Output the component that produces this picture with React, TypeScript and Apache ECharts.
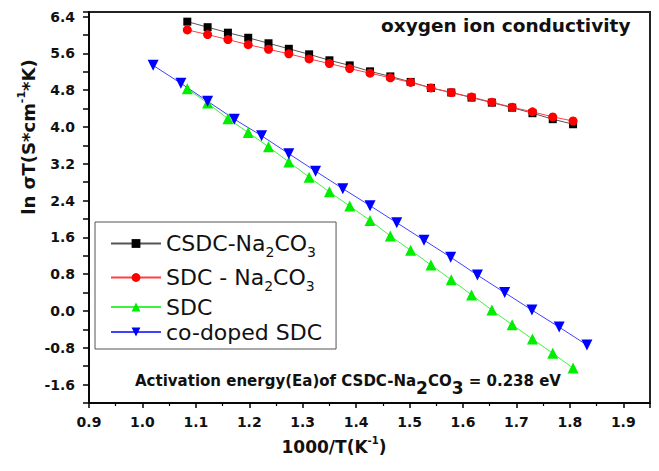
import React, { useEffect, useRef } from "react";
import * as echarts from "echarts";

// Shared x values (1000/T) for CSDC-Na2CO3, SDC-Na2CO3 and SDC
const xMain = [1.084, 1.122, 1.16, 1.198, 1.236, 1.274, 1.312, 1.35, 1.388, 1.426, 1.464, 1.502, 1.54, 1.578, 1.616, 1.654, 1.692, 1.73, 1.768, 1.806];
const yCsdcNa = [6.29, 6.17, 6.05, 5.94, 5.82, 5.7, 5.58, 5.45, 5.34, 5.21, 5.1, 4.98, 4.85, 4.75, 4.64, 4.53, 4.42, 4.3, 4.17, 4.06];
const ySdcNa = [6.11, 6.01, 5.9, 5.79, 5.69, 5.59, 5.48, 5.38, 5.27, 5.17, 5.07, 4.97, 4.85, 4.75, 4.65, 4.54, 4.43, 4.33, 4.22, 4.13];
const ySdc = [4.83, 4.52, 4.18, 3.88, 3.57, 3.24, 2.91, 2.59, 2.28, 1.97, 1.63, 1.32, 1.0, 0.68, 0.35, 0.02, -0.3, -0.61, -0.92, -1.24];
// co-doped SDC
const xCodoped = [1.02, 1.072, 1.122, 1.172, 1.223, 1.274, 1.324, 1.375, 1.426, 1.476, 1.527, 1.577, 1.627, 1.678, 1.729, 1.78, 1.832];
const yCodoped = [5.34, 4.95, 4.56, 4.17, 3.81, 3.42, 3.04, 2.66, 2.29, 1.92, 1.54, 1.17, 0.78, 0.4, 0.02, -0.35, -0.74];

const seriesNames = ["CSDC-Na2CO3", "SDC - Na2CO3", "SDC", "co-doped SDC"];
const legendRich: Record<string, string> = {
  "CSDC-Na2CO3": "CSDC-Na{sub|2}CO{sub|3}",
  "SDC - Na2CO3": "SDC - Na{sub|2}CO{sub|3}",
  SDC: "SDC",
  "co-doped SDC": "co-doped SDC",
};

const FONT = "DejaVu Sans";

const zip = (xs: number[], ys: number[]) => xs.map((x, i) => [x, ys[i]]);

export default function App() {
  const ref = useRef<HTMLDivElement>(null);
  useEffect(() => {
    if (!ref.current) return;
    const chart = echarts.init(ref.current, undefined, { renderer: "svg" });
    const near = (v: number, step: number) => Math.abs(v / step - Math.round(v / step)) < 1e-6;
    chart.setOption({
      animation: false,
      backgroundColor: "#fff",
      grid: { left: 89, right: 9, top: 12, bottom: 68, show: true, borderColor: "#222", borderWidth: 2, backgroundColor: "transparent" },
      xAxis: {
        type: "value",
        min: 0.9,
        max: 1.95,
        interval: 0.1,
        axisLine: { onZero: false, lineStyle: { color: "#000", width: 1.5 } },
        axisTick: { length: 5, lineStyle: { color: "#000", width: 1.5 } },
        minorTick: { show: true, splitNumber: 2, length: 3, lineStyle: { color: "#000", width: 1.2 } },
        splitLine: { show: false },
        axisLabel: {
          fontFamily: FONT,
          fontWeight: "bold",
          fontSize: 14,
          color: "#111",
          margin: 12,
          formatter: (v: number) => (near(v, 0.1) ? v.toFixed(1) : ""),
        },
      },
      yAxis: {
        type: "value",
        min: -2.0,
        max: 6.5,
        interval: 0.4,
        axisLine: { onZero: false, lineStyle: { color: "#000", width: 1.5 } },
        axisTick: { length: 6, lineStyle: { color: "#000", width: 1.5 } },
        splitLine: { show: false },
        axisLabel: {
          fontFamily: FONT,
          fontWeight: "bold",
          fontSize: 14,
          color: "#111",
          margin: 14,
          formatter: (v: number) => (near(v, 0.8) ? v.toFixed(1) : ""),
        },
      },
      legend: {
        orient: "vertical",
        left: 95,
        top: 222,
        padding: [6, 14, 6, 15],
        itemGap: 3,
        itemWidth: 50,
        itemHeight: 11,
        borderColor: "#555",
        borderWidth: 1,
        backgroundColor: "#fff",
        data: seriesNames,
        formatter: (name: string) => legendRich[name] || name,
        textStyle: {
          fontFamily: FONT,
          fontSize: 22,
          color: "#111",
          lineHeight: 21,
          rich: {
            sub: { fontFamily: FONT, fontSize: 14, color: "#111", verticalAlign: "bottom", lineHeight: 31 },
          },
        },
      },
      graphic: [
        {
          type: "text",
          left: 381,
          top: 16,
          style: { text: "oxygen ion conductivity", font: `bold 18.5px "${FONT}"`, fill: "#111" },
        },
        {
          type: "text",
          x: 135,
          y: 381,
          style: {
            text: "Activation energy(Ea)of CSDC-Na{s|2}CO{s|3} = 0.238 eV",
            fontFamily: FONT,
            fontWeight: "bold",
            fontSize: 15,
            fill: "#111",
            textVerticalAlign: "middle",
            lineHeight: 18,
            rich: { s: { fontFamily: FONT, fontWeight: "bold", fontSize: 17, fill: "#111", verticalAlign: "bottom", lineHeight: 30 } },
          },
        },
        {
          type: "text",
          x: 334,
          y: 447,
          style: {
            text: "1000/T(K{p|-1})",
            fontFamily: FONT,
            fontWeight: "bold",
            fontSize: 17,
            fill: "#111",
            align: "center",
            verticalAlign: "middle",
            lineHeight: 19,
            rich: { p: { fontFamily: FONT, fontWeight: "bold", fontSize: 10, fill: "#111", verticalAlign: "top", lineHeight: 23 } },
          },
        },
        {
          type: "text",
          x: 28,
          y: 137,
          rotation: Math.PI / 2,
          style: {
            text: "ln \u03c3T(S*cm{p|-1}*K)",
            fontFamily: FONT,
            fontWeight: "bold",
            fontSize: 18,
            fill: "#111",
            align: "center",
            verticalAlign: "middle",
            lineHeight: 20,
            rich: { p: { fontFamily: FONT, fontWeight: "bold", fontSize: 11, fill: "#111", verticalAlign: "top", lineHeight: 24 } },
          },
        },
      ],
      series: [
        {
          name: seriesNames[0],
          type: "line",
          data: zip(xMain, yCsdcNa),
          symbol: "rect",
          symbolSize: 8,
          itemStyle: { color: "#000" },
          lineStyle: { color: "#555", width: 1 },
        },
        {
          name: seriesNames[1],
          type: "line",
          data: zip(xMain, ySdcNa),
          symbol: "circle",
          symbolSize: 9,
          itemStyle: { color: "#ff0000" },
          lineStyle: { color: "#ff4040", width: 1 },
        },
        {
          name: seriesNames[2],
          type: "line",
          data: zip(xMain, ySdc),
          symbol: "triangle",
          symbolSize: 11,
          itemStyle: { color: "#00ee00" },
          lineStyle: { color: "#40f040", width: 1 },
        },
        {
          name: seriesNames[3],
          type: "line",
          data: zip(xCodoped, yCodoped),
          symbol: "triangle",
          symbolRotate: 180,
          symbolSize: 11,
          itemStyle: { color: "#0000ff" },
          lineStyle: { color: "#4040ff", width: 1 },
        },
      ],
    });
    return () => chart.dispose();
  }, []);
  return <div ref={ref} style={{ width: 659, height: 471, position: "absolute", left: 0, top: 0 }} />;
}
